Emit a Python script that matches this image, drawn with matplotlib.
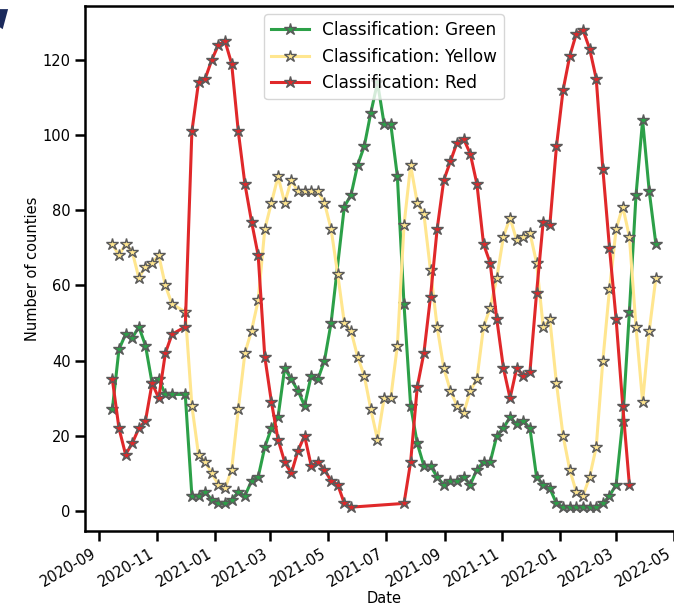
#!/usr/bin/env python3

import numpy as np
import pandas as pd
import matplotlib

matplotlib.use("Agg")
import matplotlib.pyplot as plt
import matplotlib.dates as mdates
from matplotlib.patches import Polygon

# weekly report dates (one week, 2020-11-24, is missing in the source)
dates = pd.date_range("2020-09-15", "2022-04-12", freq="7D").drop(pd.Timestamp("2020-11-24"))

green = [
    27, 43, 47, 46, 49, 44, 34, 35, 31, 31, 31,
    4, 4, 5, 3, 2, 2, 3, 5, 4, 8, 9, 17, 22, 25, 38, 35, 32, 28, 36, 35, 40, 50,
    None, 81, 84, 92, 97, 106, 114, 103, 103, 89, 55, 28, 18, 12, 12, 9, 7, 8, 8, 9,
    7, 11, 13, 13, 20, 22, 25, 23, 24, 22, 9, 7, 6, 2, 1, 1, 1, 1, 1, 1, 2, 4, 7,
    24, 53, 84, 104, 85, 71,
]
yellow = [
    71, 68, 71, 69, 62, 65, 66, 68, 60, 55, 53,
    28, 15, 13, 10, 7, 6, 11, 27, 42, 48, 56, 75, 82, 89, 82, 88, 85, 85, 85, 85,
    82, 75, 63, 50, 48, 41, 36, 27, 19, 30, 30, 44, 76, 92, 82, 79, 64, 49, 38, 32,
    28, 26, 32, 35, 49, 54, 62, 73, 78, 72, 73, 74, 66, 49, 51, 34, 20, 11, 5, 4,
    9, 17, 40, 59, 75, 81, 73, 49, 29, 48, 62,
]
red = [
    35, 22, 15, 18, 22, 24, 34, 30, 42, 47, 49,
    101, 114, 115, 120, 124, 125, 119, 101, 87, 77, 68, 41, 29, 19, 13, 10, 16, 20,
    12, 13, 11, 8, 7, 2, 1, None, None, None, None, None, None, None, 2, 13, 33, 42,
    57, 75, 88, 93, 98, 99, 95, 87, 71, 66, 51, 38, 30, 38, 36, 37, 58, 77, 76, 97,
    112, 121, 127, 128, 123, 115, 91, 70, 51, 28, 7, None, None, None, None,
]

series = {
    "Green": (green, "#2ca048"),
    "Yellow": (yellow, "#ffe68f"),
    "Red": (red, "#e0282a"),
}


def plot_classifications(file_image: str = "out.png") -> None:
    fig = plt.figure(figsize=(6.74, 6.08), dpi=100)
    ax = fig.add_axes([0.1264, 0.1266, 0.887, 0.8635])

    for name, (values, color) in series.items():
        s = pd.Series(values, index=dates, dtype="float").dropna()
        ax.plot(
            s.index,
            s.values,
            color=color,
            linewidth=2.2,
            marker="*",
            markersize=9,
            markerfacecolor=color,
            markeredgecolor="#5a5a5a",
            markeredgewidth=1.0,
            label=f"Classification: {name}",
        )

    ax.set_xlim(pd.Timestamp("2020-08-17 08:00"), pd.Timestamp("2022-05-10 16:00"))
    ax.set_ylim(-5.35, 134.35)
    ax.set_yticks(np.arange(0, 121, 20))
    ax.xaxis.set_major_locator(mdates.MonthLocator(bymonth=[1, 3, 5, 7, 9, 11]))
    ax.xaxis.set_major_formatter(mdates.DateFormatter("%Y-%m"))
    for lbl in ax.get_xticklabels():
        lbl.set_rotation(30)
        lbl.set_ha("right")

    for side in ["left", "bottom", "top"]:
        ax.spines[side].set_linewidth(1.8)
    ax.spines["right"].set_visible(False)
    ax.tick_params(axis="both", width=1.8, length=7, labelsize=10.5)

    ax.set_xlabel("Date", fontsize=10.5, labelpad=1)
    ax.set_ylabel("Number of counties", fontsize=10.5, labelpad=2)

    ax.legend(loc="upper center", fontsize=12.2, handlelength=2.2, borderaxespad=0.5)

    # small dark mark left over in the top corner of the screenshot
    fig.patches.append(
        Polygon(
            [[0.0, 0.985], [0.012, 0.985], [0.004, 0.952], [0.0, 0.955]],
            closed=True,
            transform=fig.transFigure,
            facecolor="#1b2a5c",
            edgecolor="none",
        )
    )

    plt.savefig(file_image, dpi=100)


if __name__ == "__main__":
    plot_classifications()
